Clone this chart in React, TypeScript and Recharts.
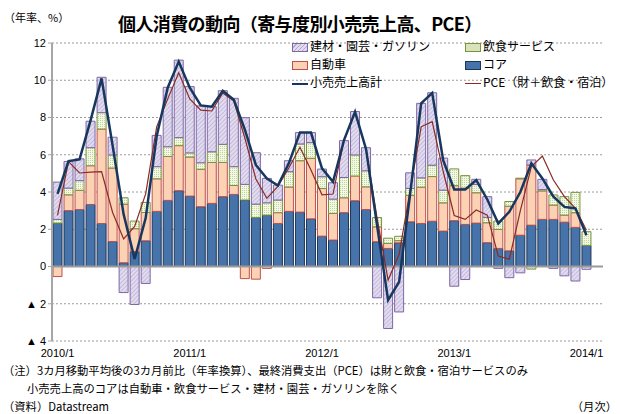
import React from 'react'
import {
  ComposedChart,
  Bar,
  Line,
  XAxis,
  YAxis,
  CartesianGrid,
  ReferenceLine,
} from 'recharts'

// 2010/1 - 2014/1 (last slot is an empty month so the plot runs past the final bar)
const months = [
  '2010/1', '2010/2', '2010/3', '2010/4', '2010/5', '2010/6', '2010/7', '2010/8', '2010/9', '2010/10', '2010/11', '2010/12',
  '2011/1', '2011/2', '2011/3', '2011/4', '2011/5', '2011/6', '2011/7', '2011/8', '2011/9', '2011/10', '2011/11', '2011/12',
  '2012/1', '2012/2', '2012/3', '2012/4', '2012/5', '2012/6', '2012/7', '2012/8', '2012/9', '2012/10', '2012/11', '2012/12',
  '2013/1', '2013/2', '2013/3', '2013/4', '2013/5', '2013/6', '2013/7', '2013/8', '2013/9', '2013/10', '2013/11', '2013/12',
  '2014/1', '2014/2',
]

const xTicks = ['2010/1', '2011/1', '2012/1', '2013/1', '2014/1']
const yTicks = [-4, -2, 0, 2, 4, 6, 8, 10, 12]

// コア
const core = [
  2.33, 3.0, 3.06, 3.33, 2.31, 1.34, 0.2, 0.8, 1.38, 2.96, 3.55, 4.07,
  3.78, 3.21, 3.39, 3.75, 3.87, 3.57, 2.63, 2.76, 2.31, 2.96, 2.92, 2.56,
  1.63, 1.42, 2.89, 3.53, 3.06, 1.33, 0.97, 1.27, 2.4, 2.31, 2.43, 1.9,
  2.46, 2.26, 2.33, 1.28, 0.97, 0.84, 1.68, 2.22, 2.53, 2.53, 2.38, 2.1,
  1.13,
]
// 自動車
const auto = [
  -0.54, 0.85, 1.03, 2.08, 5.07, 3.95, 3.15, 1.23, 1.52, 1.75, 2.36, 2.42,
  2.1, 2.01, 2.2, 1.84, 0.48, -0.65, -0.68, -0.1, 0.58, 1.31, 2.76, 3.25,
  2.56, 1.43, 0.8, 1.33, 1.22, 0.8, 0.27, 0.12, 1.42, 1.95, 2.4, 1.52,
  1.88, 1.95, 1.63, 1.07, 1.02, 2.4, 3.03, 3.23, 1.53, 0.77, 0.38, 0.79,
  0,
]
// 飲食サービス
const food = [
  0.2, 0.36, 0.52, 0.97, 0.88, 0.7, 0.34, 0.41, 0.54, 0.65, 0.52, 0.43,
  0.22, 0.35, 0.57, 0.97, 1.01, 0.84, 0.72, 0.66, 0.68, 0.82, 0.9, 0.84,
  0.63, 0.77, 1.09, 1.13, 0.86, 0.5, 0.28, 0.23, 0.37, 0.5, 0.61, 0.68,
  0.9, 0.67, 0.44, 0.29, 0.45, 0.25, 0.03, -0.14, 0.07, 0.54, 0.99, 1.09,
  0.74,
]
// 建材・園芸・ガソリン
const building = [
  2.0, 1.43, 1.17, 1.42, 1.9, 0.95, -1.4, -2.04, -0.91, 1.68, 3.19, 4.16,
  3.56, 3.05, 2.42, 2.88, 3.67, 3.58, 2.76, 1.31, 0.8, 0.59, 0.61, 0.54,
  0.41, 0.88, 1.98, 2.33, 1.24, -1.68, -3.33, -2.44, 0.84, 4.0, 3.89, 1.72,
  -1.06, -0.7, 0.28, 1.11, -0.1, -0.6, -0.34, 0.27, 0.55, -0.1, -0.5, -0.78,
  -0.15,
]
// 小売売上高計
const retailTotal = [
  3.9, 5.66, 5.75, 7.85, 10.1, 6.5, 2.8, 0.4, 2.6, 7.0, 9.6, 11.0,
  9.6, 8.65, 8.58, 9.43, 8.95, 7.35, 5.45, 4.72, 4.35, 5.55, 7.19, 7.19,
  5.27, 4.55, 6.79, 8.3, 6.3, 2.2, -1.81, -0.82, 3.9, 8.76, 9.32, 5.7,
  4.14, 4.14, 4.64, 3.6, 2.31, 2.94, 4.0, 5.54, 4.73, 3.75, 3.2, 3.12,
  1.68,
]
// PCE（財＋飲食・宿泊）
const pce = [
  2.75, 5.63, 5.02, 5.07, 5.09, 2.9, 1.48, 2.15, 3.9, 7.5, 9.0, 10.4,
  9.0, 8.4, 8.35, 9.32, 8.88, 6.9, 4.7, 3.66, 4.3, 5.3, 6.4, 5.18,
  3.85, 3.89, 6.8, 8.26, 6.3, 2.6, -0.73, 0.65, 4.1, 7.5, 7.78, 5.1,
  2.74, 2.53, 3.03, 2.76, 0.56, 0.39, 3.0, 5.36, 5.93, 4.64, 3.75, 3.12,
  1.95,
]

const data = months.map((m, i) => ({
  month: m,
  core: core[i] ?? null,
  auto: auto[i] ?? null,
  food: food[i] ?? null,
  building: building[i] ?? null,
  total: retailTotal[i] ?? null,
  pce: pce[i] ?? null,
}))

const COLORS = {
  core: '#4673a9',
  coreStroke: '#1f3556',
  auto: '#fbd2b3',
  autoStroke: '#c0504d',
  food: '#f3f7e6',
  foodStroke: '#77933c',
  building: '#e2dcef',
  buildingStroke: '#7e67a6',
  total: '#17375e',
  pce: '#8b2a24',
}

const JP = '"Noto Sans CJK JP", "Noto Sans", sans-serif'
const LATIN = '"Liberation Sans", Arial, sans-serif'

const yFmt = (v: number) => (v < 0 ? `▲ ${Math.abs(v)}` : `${v}`)

function Swatch({ kind }: { kind: string }) {
  if (kind === 'total' || kind === 'pce') {
    return (
      <span
        style={{
          display: 'inline-block',
          width: 16,
          height: 0,
          borderTop: `${kind === 'total' ? 2 : 1}px solid ${kind === 'total' ? COLORS.total : COLORS.pce}`,
          verticalAlign: 'middle',
          marginRight: 2,
        }}
      />
    )
  }
  const bg: Record<string, string> = {
    building: `repeating-linear-gradient(135deg, ${COLORS.building} 0 2px, #b3a6cf 2px 3px)`,
    food: `radial-gradient(#b9cc8c 0.6px, ${COLORS.food} 0.8px) 0 0 / 2px 2px`,
    auto: COLORS.auto,
    core: COLORS.core,
  }
  const border: Record<string, string> = {
    building: COLORS.buildingStroke,
    food: COLORS.foodStroke,
    auto: COLORS.autoStroke,
    core: COLORS.coreStroke,
  }
  return (
    <span
      style={{
        display: 'inline-block',
        width: 14,
        height: 7,
        background: bg[kind],
        border: `1px solid ${border[kind]}`,
        verticalAlign: 'middle',
        marginRight: 2,
      }}
    />
  )
}

const legendItems = [
  { kind: 'building', label: '建材・園芸・ガソリン', x: 292, y: 38 },
  { kind: 'food', label: '飲食サービス', x: 465, y: 38 },
  { kind: 'auto', label: '自動車', x: 292, y: 56 },
  { kind: 'core', label: 'コア', x: 465, y: 56 },
  { kind: 'total', label: '小売売上高計', x: 292, y: 74 },
  { kind: 'pce', label: 'PCE（財＋飲食・宿泊）', x: 465, y: 74 },
]

export default function App() {
  return (
    <div
      style={{
        position: 'absolute',
        left: 0,
        top: 0,
        width: 622,
        height: 414,
        background: '#fff',
        fontFamily: JP,
        color: '#000',
      }}
    >
      <div style={{ position: 'absolute', left: 4, top: 9, fontSize: 11 }}>（年率、%）</div>
      <div
        style={{
          position: 'absolute',
          left: 118,
          top: 10,
          fontSize: 18,
          fontWeight: 600,
          letterSpacing: -0.6,
          whiteSpace: 'nowrap',
        }}
      >
        個人消費の動向（寄与度別小売売上高、PCE）
      </div>

      <ComposedChart
        width={622}
        height={414}
        data={data}
        stackOffset="sign"
        barCategoryGap={1}
        margin={{ top: 43, right: 19, bottom: 43, left: 10 }}
      >
        <defs>
          <pattern id="hatch" width="3" height="3" patternUnits="userSpaceOnUse" patternTransform="rotate(45)">
            <rect width="3" height="3" fill={COLORS.building} />
            <line x1="0" y1="0" x2="0" y2="3" stroke="#b2a5cf" strokeWidth="1.2" />
          </pattern>
          <pattern id="dots" width="2" height="2" patternUnits="userSpaceOnUse">
            <rect width="2" height="2" fill={COLORS.food} />
            <rect width="1" height="1" fill="#c3d49a" />
          </pattern>
        </defs>
        <CartesianGrid vertical={false} stroke="#9a9a9a" strokeDasharray="2 2" />
        <XAxis
          dataKey="month"
          ticks={xTicks}
          interval={0}
          axisLine={false}
          tickLine={false}
          tick={{ fontSize: 11, fill: '#000', fontFamily: LATIN }}
        />
        <YAxis
          domain={[-4, 12]}
          ticks={yTicks}
          interval={0}
          width={42}
          tickFormatter={yFmt}
          axisLine={{ stroke: '#a6a6a6', strokeWidth: 2 }}
          tickLine={{ stroke: '#a6a6a6' }}
          tickSize={4}
          tick={{ fontSize: 11, fill: '#000', fontFamily: LATIN }}
        />
        <Bar dataKey="core" stackId="s" barSize={9} fill={COLORS.core} stroke={COLORS.coreStroke} strokeWidth={1} isAnimationActive={false} />
        <Bar dataKey="auto" stackId="s" barSize={9} fill={COLORS.auto} stroke={COLORS.autoStroke} strokeWidth={1} isAnimationActive={false} />
        <Bar dataKey="food" stackId="s" barSize={9} fill="url(#dots)" stroke={COLORS.foodStroke} strokeWidth={1} isAnimationActive={false} />
        <Bar dataKey="building" stackId="s" barSize={9} fill="url(#hatch)" stroke={COLORS.buildingStroke} strokeWidth={1} isAnimationActive={false} />
        <ReferenceLine y={0} stroke="#9a9a9a" strokeWidth={2} />
        <Line dataKey="pce" type="linear" stroke={COLORS.pce} strokeWidth={1.2} dot={false} isAnimationActive={false} />
        <Line dataKey="total" type="linear" stroke={COLORS.total} strokeWidth={2.5} dot={false} isAnimationActive={false} />
      </ComposedChart>

      {legendItems.map((it) => (
        <div
          key={it.kind}
          style={{
            position: 'absolute',
            left: it.x,
            top: it.y,
            height: 15,
            fontSize: 12,
            whiteSpace: 'nowrap',
            lineHeight: '15px',
          }}
        >
          <Swatch kind={it.kind} />
          {it.label}
        </div>
      ))}

      <div style={{ position: 'absolute', left: 3, top: 361, fontSize: 11.3, lineHeight: '18px', whiteSpace: 'nowrap' }}>
        <div>（注）3カ月移動平均後の3カ月前比（年率換算）、最終消費支出（PCE）は財と飲食・宿泊サービスのみ</div>
        <div style={{ paddingLeft: 24 }}>小売売上高のコアは自動車・飲食サービス・建材・園芸・ガソリンを除く</div>
        <div>（資料）Datastream</div>
      </div>
      <div style={{ position: 'absolute', right: 5, top: 397, fontSize: 11.3, lineHeight: '18px' }}>（月次）</div>
    </div>
  )
}
